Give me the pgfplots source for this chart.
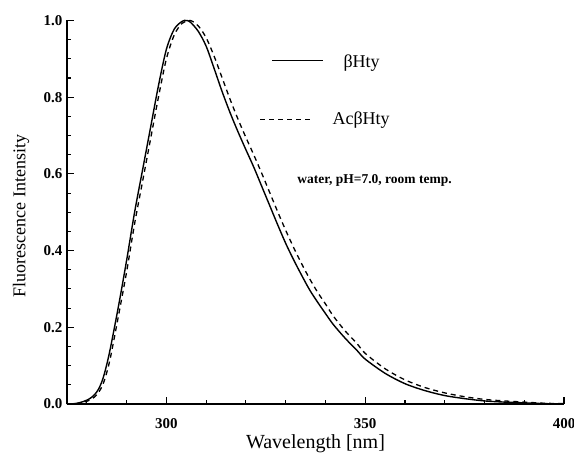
\documentclass[border=0pt]{standalone}
\usepackage{pgfplots}
\pgfplotsset{compat=1.18}
\usepackage{fontspec}
\setmainfont{Liberation Serif}
\begin{document}
\begin{tikzpicture}
\path[use as bounding box] (-67pt,-56pt) rectangle (507pt,404pt);
\begin{axis}[
  at={(0pt,0pt)}, anchor=south west,
  scale only axis, width=497pt, height=383.5pt,
  xmin=275, xmax=400, ymin=0, ymax=1.0,
  axis lines=left, axis line style={-, line width=1.3pt},
  xtick={300,350,400}, minor xtick={280,290,310,320,330,340,360,370,380,390},
  ytick={0,0.2,0.4,0.6,0.8,1.0}, minor ytick={0.05,0.1,...,0.95},
  major tick length=7pt, minor tick length=4pt,
  tick style={line width=1.1pt, black},
  tick align=inside,
  yticklabel style={xshift=-1pt, /pgf/number format/.cd, fixed, fixed zerofill, precision=1},
  /pgf/number format/assume math mode=true,
  ticklabel style={font=\fontsize{15}{17}\selectfont\bfseries},
  xticklabel style={yshift=-11pt},
  xlabel={Wavelength [nm]},
  ylabel={Fluorescence Intensity},
  label style={font=\fontsize{20}{22}\selectfont},
  xlabel style={yshift=1pt},
  ylabel style={at={(axis description cs:-0.0926,0.49)}, anchor=center, font=\fontsize{18}{20}\selectfont},
  clip=false,
]
\addplot[black, line width=1.4pt, smooth] coordinates {
(275,0) (277,0.001) (278,0.003) (279,0.006) (280,0.01) (281,0.016) (282,0.025) (283,0.04) (284,0.065)
(285,0.103) (286,0.15) (288,0.258)
(290,0.375) (292,0.50) (294,0.61) (296,0.72) (298,0.83) (300,0.925) (302,0.978) (304,0.998)
(305,1.0) (306,0.996) (308,0.972) (310,0.933) (312,0.875) (314,0.815) (316,0.76) (318,0.71)
(320,0.663) (322,0.617) (324,0.567) (326,0.517) (328,0.467) (330,0.419) (332,0.376) (334,0.336)
(336,0.298) (338,0.266) (340,0.236) (342,0.207) (345,0.171) (348,0.139) (350,0.117) (355,0.08)
(360,0.053) (365,0.035) (370,0.022) (375,0.014) (380,0.008) (385,0.005) (390,0.003) (395,0.001) (400,0.0)
};
\addplot[black, line width=1.3pt, dash pattern=on 5pt off 4pt, smooth] coordinates {
(275,0) (277,0.0) (278,0.002) (279,0.004) (280,0.007) (281,0.012) (282,0.019) (283,0.031) (284,0.05)
(285,0.082) (286,0.125) (288,0.233)
(290,0.345) (292,0.47) (294,0.58) (296,0.69) (298,0.80) (300,0.90) (302,0.963) (304,0.993)
(306,1.0) (308,0.986) (310,0.955) (312,0.907) (314,0.851) (316,0.795) (318,0.743) (320,0.695)
(322,0.649) (324,0.601) (326,0.551) (328,0.501) (330,0.453) (332,0.408) (334,0.366) (336,0.327)
(338,0.292) (340,0.261) (342,0.229) (345,0.19) (348,0.157) (350,0.132) (355,0.092) (360,0.063)
(365,0.043) (370,0.029) (375,0.019) (380,0.012) (385,0.008) (390,0.005) (395,0.002) (400,0.001)
};
\draw[black, line width=1.4pt] (axis cs:326.6,0.896) -- (axis cs:339.4,0.896);
\node[anchor=west, inner sep=0pt, font=\fontsize{18}{20}\selectfont] at (axis cs:344.5,0.888) {βHty};
\draw[black, line width=1.3pt, dash pattern=on 5pt off 4pt] (axis cs:323.6,0.742) -- (axis cs:337,0.742);
\node[anchor=west, inner sep=0pt, font=\fontsize{18}{20}\selectfont] at (axis cs:341.75,0.741) {AcβHty};
\node[anchor=west, inner sep=0pt, font=\fontsize{13.5}{15}\selectfont\bfseries] at (axis cs:332.9,0.584) {water, pH=7.0, room temp.};
\end{axis}
\end{tikzpicture}
\end{document}
